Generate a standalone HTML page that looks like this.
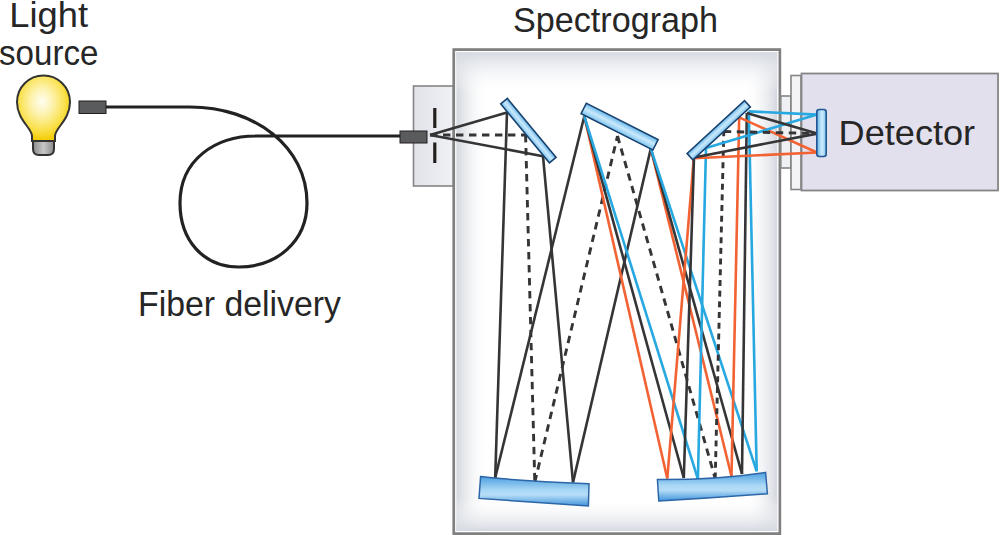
<!DOCTYPE html>
<html><head><meta charset="utf-8"><style>
html,body{margin:0;padding:0;background:#fff;width:1000px;height:535px;overflow:hidden}
svg{display:block}
text{font-family:"Liberation Sans",sans-serif;fill:#262626}
</style></head><body>
<svg width="1000" height="535" viewBox="0 0 1000 535">
<defs>
<radialGradient id="bulb" cx="0.47" cy="0.4" r="0.6">
<stop offset="0" stop-color="#fffdf2"/><stop offset="0.35" stop-color="#fdf2ac"/><stop offset="0.75" stop-color="#f9df44"/><stop offset="1" stop-color="#f2ca00"/>
</radialGradient>
<linearGradient id="base" x1="0" y1="0" x2="1" y2="0">
<stop offset="0" stop-color="#8a8a8a"/><stop offset="0.5" stop-color="#c6c6c6"/><stop offset="1" stop-color="#8a8a8a"/>
</linearGradient>
<linearGradient id="mir" x1="0" y1="0" x2="0" y2="1">
<stop offset="0" stop-color="#6ab9ec"/><stop offset="0.5" stop-color="#cbe9fb"/><stop offset="1" stop-color="#7cc5f0"/>
</linearGradient>
<linearGradient id="mirb" x1="0" y1="0" x2="0" y2="1">
<stop offset="0" stop-color="#4c9fe0"/><stop offset="0.45" stop-color="#a8d7f5"/><stop offset="0.62" stop-color="#b6ddf7"/><stop offset="1" stop-color="#4294dc"/>
</linearGradient>
<linearGradient id="boxh" x1="0" y1="0" x2="1" y2="0">
<stop offset="0" stop-color="#d3d7de"/><stop offset="0.1" stop-color="#ffffff" stop-opacity="0"/><stop offset="0.9" stop-color="#ffffff" stop-opacity="0"/><stop offset="1" stop-color="#d3d7de"/>
</linearGradient>
<linearGradient id="boxv" x1="0" y1="0" x2="0" y2="1">
<stop offset="0" stop-color="#d5d9e1"/><stop offset="0.085" stop-color="#ffffff" stop-opacity="0"/><stop offset="0.93" stop-color="#ffffff" stop-opacity="0"/><stop offset="1" stop-color="#d5d9e1"/>
</linearGradient>
<linearGradient id="detg" x1="0" y1="0" x2="1" y2="0">
<stop offset="0" stop-color="#62b4ea"/><stop offset="0.55" stop-color="#d2ecfb"/><stop offset="1" stop-color="#7cc4ef"/>
</linearGradient>
<linearGradient id="slitg" x1="0" y1="0" x2="1" y2="0">
<stop offset="0" stop-color="#e0e3e9"/><stop offset="1" stop-color="#f0f1f5"/>
</linearGradient>
</defs>

<text x="9.3" y="26.6" font-size="35" textLength="78.7" lengthAdjust="spacingAndGlyphs">Light</text>
<text x="-1" y="64.5" font-size="35" textLength="99.4" lengthAdjust="spacingAndGlyphs">source</text>
<text x="513" y="31.5" font-size="35.5" textLength="205" lengthAdjust="spacingAndGlyphs">Spectrograph</text>
<text x="138" y="315.6" font-size="35" textLength="203" lengthAdjust="spacingAndGlyphs">Fiber delivery</text>

<path d="M32,141 L32,136 C32,128 17,120 17,102 A26.5,26.5 0 0 1 70,102 C70,120 55,128 55,136 L55,141 Z" fill="url(#bulb)" stroke="#333" stroke-width="2"/>
<path d="M33,141 L54,141 L54,149 Q54,155 48,155 L39,155 Q33,155 33,149 Z" fill="url(#base)" stroke="#333" stroke-width="2"/>

<path d="M106,107 H190 C255,107 307,147 307,203 C307,242 276,267 239,267 C203,267 180,240 180,203 C180,160 215,136 256,136 H400" fill="none" stroke="#222" stroke-width="3.2"/>
<rect x="79" y="101" width="27" height="12.5" fill="#5a5b5d" stroke="#231f20" stroke-width="1"/>

<rect x="413.5" y="86" width="40" height="100" fill="url(#slitg)" stroke="#858585" stroke-width="1.6"/>

<rect x="453.8" y="49.6" width="326" height="484" fill="#ffffff" stroke="#808080" stroke-width="2.8"/>
<rect x="455.8" y="51.6" width="322" height="480" fill="none" stroke="#ffffff" stroke-opacity="0.7" stroke-width="1"/>
<rect x="456.4" y="52.2" width="320.8" height="478.8" fill="url(#boxh)"/>
<rect x="456.4" y="52.2" width="320.8" height="478.8" fill="url(#boxv)"/>

<rect x="780.8" y="96" width="10" height="72" fill="#eef0f3" stroke="#858585" stroke-width="1.6"/>
<rect x="791" y="75.5" width="10" height="114" fill="#f4f4f7" stroke="#858585" stroke-width="1.6"/>
<rect x="801.5" y="73.5" width="196.5" height="117" fill="#e3e0ee" stroke="#858585" stroke-width="1.8"/>
<text x="838.6" y="144.8" font-size="35" textLength="136.5" lengthAdjust="spacingAndGlyphs">Detector</text>

<rect x="433.2" y="108" width="3.2" height="20" fill="#231f20"/>
<rect x="433.2" y="142.5" width="3.2" height="20.5" fill="#231f20"/>
<rect x="400" y="131" width="27" height="12" fill="#5a5b5d" stroke="#231f20" stroke-width="1"/>

<line x1="430" y1="135" x2="507" y2="112.4" stroke="#353537" stroke-width="2.6"/>
<line x1="430" y1="135" x2="525.6" y2="135" stroke="#353537" stroke-width="2.9" stroke-dasharray="7.4 5.6"/>
<line x1="430" y1="135" x2="543" y2="156.2" stroke="#353537" stroke-width="2.6"/>
<line x1="507" y1="112.4" x2="495.2" y2="477.6" stroke="#353537" stroke-width="2.6"/>
<line x1="525.6" y1="135" x2="534.8" y2="482.2" stroke="#353537" stroke-width="2.9" stroke-dasharray="7.4 5.6"/>
<line x1="543" y1="156.2" x2="573" y2="482.4" stroke="#353537" stroke-width="2.6"/>
<line x1="495.2" y1="477.6" x2="584.3" y2="116.3" stroke="#353537" stroke-width="2.6"/>
<line x1="534.8" y1="482.2" x2="617.5" y2="136" stroke="#353537" stroke-width="2.9" stroke-dasharray="7.4 5.6"/>
<line x1="573" y1="482.4" x2="650.8" y2="148.6" stroke="#353537" stroke-width="2.6"/>
<line x1="584.3" y1="116.3" x2="667.3" y2="478.5" stroke="#f26232" stroke-width="2.6"/>
<line x1="650.8" y1="148.6" x2="731.5" y2="476.3" stroke="#f26232" stroke-width="2.6"/>
<line x1="584.3" y1="116.3" x2="683.8" y2="478" stroke="#353537" stroke-width="2.6"/>
<line x1="650.8" y1="148.6" x2="742" y2="474" stroke="#353537" stroke-width="2.6"/>
<line x1="584.3" y1="116.3" x2="697.9" y2="479" stroke="#27a8e0" stroke-width="2.6"/>
<line x1="650.8" y1="148.6" x2="756.7" y2="471.3" stroke="#27a8e0" stroke-width="2.6"/>
<line x1="617.5" y1="136" x2="715.2" y2="478.5" stroke="#353537" stroke-width="2.9" stroke-dasharray="7.4 5.6"/>
<line x1="667.3" y1="478.5" x2="693.8" y2="158.3" stroke="#f26232" stroke-width="2.6"/>
<line x1="731.5" y1="476.3" x2="739.2" y2="117.4" stroke="#f26232" stroke-width="2.6"/>
<line x1="683.8" y1="478" x2="694" y2="157.5" stroke="#353537" stroke-width="2.6"/>
<line x1="742" y1="474" x2="746.8" y2="113" stroke="#353537" stroke-width="2.6"/>
<line x1="697.9" y1="479" x2="706" y2="148" stroke="#27a8e0" stroke-width="2.6"/>
<line x1="756.7" y1="471.3" x2="748.8" y2="111.4" stroke="#27a8e0" stroke-width="2.6"/>
<line x1="715.2" y1="478.5" x2="723.8" y2="131.5" stroke="#353537" stroke-width="2.9" stroke-dasharray="6 4.7"/>
<line x1="693.8" y1="158.3" x2="817" y2="152.5" stroke="#f26232" stroke-width="2.6"/>
<line x1="739.2" y1="117.4" x2="817" y2="152.5" stroke="#f26232" stroke-width="2.6"/>
<line x1="706" y1="148" x2="817" y2="114.6" stroke="#27a8e0" stroke-width="2.6"/>
<line x1="748.8" y1="111.4" x2="817" y2="114.6" stroke="#27a8e0" stroke-width="2.6"/>
<line x1="694" y1="157.5" x2="817" y2="133.6" stroke="#353537" stroke-width="2.6"/>
<line x1="746.8" y1="113" x2="817" y2="133.6" stroke="#353537" stroke-width="2.6"/>
<line x1="723.8" y1="131.5" x2="812" y2="133.4" stroke="#353537" stroke-width="2.9" stroke-dasharray="7.4 5.6"/>

<rect x="-38.25" y="-4.3" width="76.5" height="8.6" transform="translate(528.4,130.7) rotate(50.5)" fill="url(#mir)" stroke="#19426f" stroke-width="1.6"/>
<rect x="-40.25" y="-5.8" width="80.5" height="11.6" transform="translate(619.6,126.6) rotate(26.9)" fill="url(#mir)" stroke="#19426f" stroke-width="1.6"/>
<rect x="-39.0" y="-4.3" width="78" height="8.6" transform="translate(718.7,130.2) rotate(-42.6)" fill="url(#mir)" stroke="#19426f" stroke-width="1.6"/>
<path d="M480.6,476.6 Q520,481 589,483.8 L588.4,506 Q535,502.5 479,498.4 Z" fill="url(#mirb)" stroke="#2d66a6" stroke-width="1.5"/>
<path d="M657.4,479.6 Q715,480 765.6,472.4 L767.4,493.8 Q712,498 658.8,501 Z" fill="url(#mirb)" stroke="#2d66a6" stroke-width="1.5"/>
<rect x="816.8" y="109.5" width="9.4" height="47" rx="2.5" fill="url(#detg)" stroke="#1f5590" stroke-width="1.6"/>
</svg>
</body></html>
